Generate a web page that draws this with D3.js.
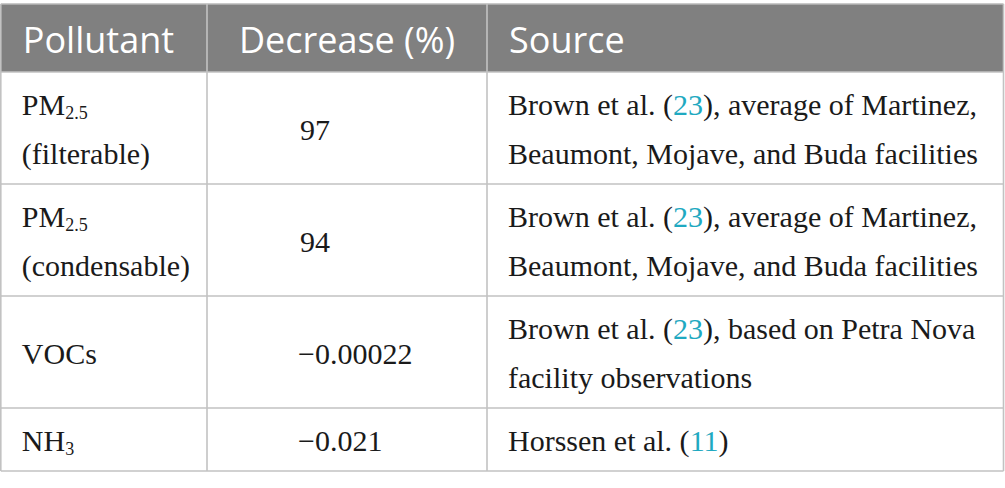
<!DOCTYPE html>
<html lang="en">
<head>
  <meta charset="UTF-8" />
  <title>Pollutant decrease</title>
  <script src="https://d3js.org/d3.v7.min.js"></script>
  <style>
    html, body { margin: 0; padding: 0; background: #fff; }
    svg { display: block; }
  </style>
</head>
<body>
<svg width="1005" height="488"></svg>
<script>
  // Table content. "_" starts a subscript until end of line, [..] marks a reference, "|" breaks lines
  const columns = ["Pollutant", "Decrease (%)", "Source"];
  const pollutants = ["PM_2.5|(filterable)", "PM_2.5|(condensable)", "VOCs", "NH_3"];
  const decreases = [97, 94, -0.00022, -0.021];
  const sources = [
    "Brown et al. ([23]), average of Martinez,|Beaumont, Mojave, and Buda facilities",
    "Brown et al. ([23]), average of Martinez,|Beaumont, Mojave, and Buda facilities",
    "Brown et al. ([23]), based on Petra Nova|facility observations",
    "Horssen et al. ([11])"
  ];

  // Layout
  const svg = d3.select("svg");
  const colEdges = [0.8, 207, 487, 1003.5];
  const tableTop = 4, headH = 68, lineH = 49, rowPad = 14, padX = 21;
  const decimalX = 330;
  const serif = "'Liberation Serif', Tinos, serif";
  const ink = "#1a1a1a", refColor = "#1fa9c1", ruleColor = "#c2c2c2";

  const x = d3.scaleOrdinal().domain(columns).range(colEdges.slice(0, 3));
  const colW = d3.scaleOrdinal().domain(columns).range(d3.pairs(colEdges).map(p => p[1] - p[0]));

  const lines = s => s.split("|");
  const nLines = sources.map((s, i) => Math.max(lines(s).length, lines(pollutants[i]).length));
  const rowH = nLines.map(n => n * lineH + rowPad);
  const rowTop = [0, ...d3.cumsum(rowH)].map(v => v + tableTop + headH);
  const y = d3.scaleOrdinal().domain(d3.range(sources.length)).range(rowTop);

  const cellText = (xx, yy) => svg.append("text")
    .attr("x", xx).attr("y", yy)
    .style("font-family", serif).style("font-size", "30px").style("fill", ink);

  // header
  svg.append("rect")
     .attr("x", colEdges[0]).attr("y", tableTop)
     .attr("width", colEdges[3] - colEdges[0]).attr("height", headH)
     .attr("fill", "#808080");

  svg.selectAll(".head").data(columns).enter().append("text")
     .attr("class", "head")
     .attr("x", d => d === "Decrease (%)" ? x(d) + colW(d) / 2 : x(d) + padX + 1)
     .attr("y", tableTop + 48.5)
     .attr("text-anchor", d => d === "Decrease (%)" ? "middle" : "start")
     .style("font-family", "'Open Sans', sans-serif")
     .style("font-size", "36px")
     .style("fill", "#fff")
     .text(d => d);

  // write one line with subscript / reference markup into a text element
  function writeLine(text, str) {
    const parts = str.split(/(\[[^\]]+\]|_[^|]+$)/).filter(p => p.length);
    parts.forEach(p => {
      if (p[0] === "[") {
        text.append("tspan").style("fill", refColor).text(p.slice(1, -1));
      } else if (p[0] === "_") {
        text.append("tspan").style("font-size", "18px").attr("dy", 4).text(p.slice(1));
      } else {
        text.append("tspan").text(p);
      }
    });
  }

  // first baseline of a block of n lines centred in a row
  const baseline = (i, n) => y(i) + (rowH[i] - n * lineH) / 2 + lineH / 2 + 11.5;

  sources.forEach((src, i) => {
    [[pollutants[i], "Pollutant"], [src, "Source"]].forEach(([s, col]) => {
      const ls = lines(s);
      ls.forEach((l, j) => {
        writeLine(cellText(x(col) + padX, baseline(i, ls.length) + j * lineH), l);
      });
    });

    // decrease value, aligned on the decimal point
    const str = String(decreases[i]).replace("-", "\u2212");
    const [intPart, frac] = str.split(".");
    const by = baseline(i, 1);
    cellText(decimalX, by).attr("text-anchor", "end").text(intPart);
    if (frac) cellText(decimalX, by).text("." + frac);
  });

  // rules
  const bottom = rowTop[rowTop.length - 1];
  const rule = () => svg.append("line").attr("stroke", ruleColor).attr("stroke-width", 1.6);
  rule().attr("stroke", "#b8b8b8")
     .attr("x1", colEdges[0]).attr("x2", colEdges[3]).attr("y1", tableTop).attr("y2", tableTop);
  rowTop.forEach(v => {
    rule().attr("x1", colEdges[0]).attr("x2", colEdges[3]).attr("y1", v).attr("y2", v);
  });
  colEdges.forEach(v => {
    rule().attr("x1", v).attr("x2", v).attr("y1", tableTop).attr("y2", bottom);
  });
</script>
</body>
</html>
